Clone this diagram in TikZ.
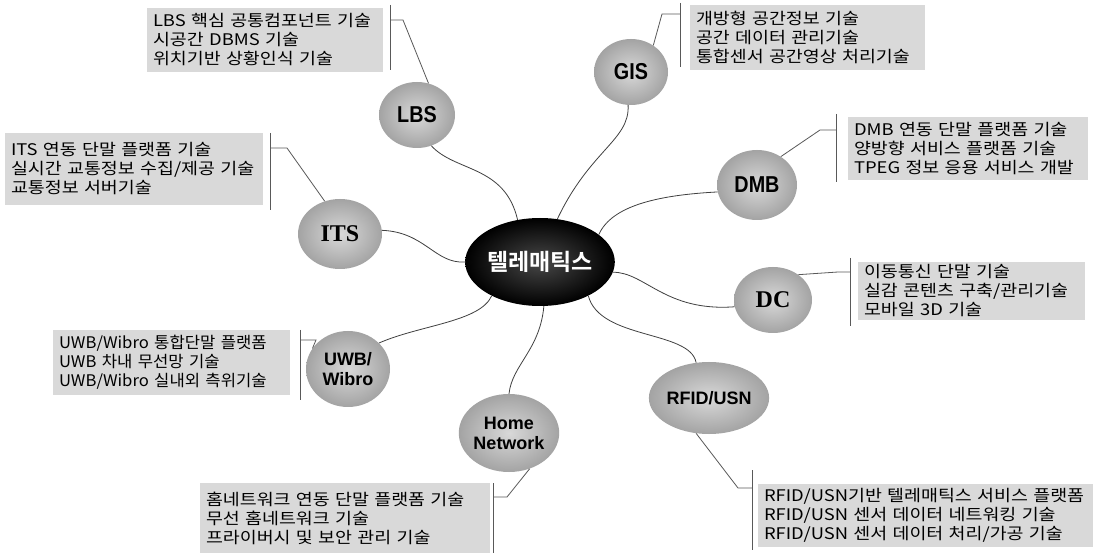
\documentclass[tikz,border=0pt]{standalone}
\usepackage{fontspec}
\setmainfont{Noto Sans CJK KR}
\newfontfamily\boxfont{Noto Sans CJK KR}[FakeStretch=1.15]
\newfontfamily\boxfontn{Noto Sans CJK KR}[FakeStretch=1.04]
\newfontfamily\krbold{Noto Sans CJK KR Bold}
\newfontfamily\lblsans{Liberation Sans}
\newfontfamily\lblcond{Liberation Sans}[FakeStretch=0.86]
\newfontfamily\lblserif{Liberation Serif}
\usetikzlibrary{shapes.geometric}
\begin{document}
\begin{tikzpicture}[x=1pt,y=-1pt,
  sat/.style={ellipse, inner sep=0pt, inner color=gray!30, outer color=gray!72, align=center},
  hub/.style={ellipse, inner sep=0pt, inner color=black!72, outer color=black, text=white},
  infobox/.style={rectangle, fill=gray!30, align=left, inner xsep=6pt, inner ysep=0pt,
    font=\boxfont\fontsize{16}{19}\selectfont},
  brk/.style={draw=black!65, line width=0.8pt},
  link/.style={draw=black!75, line width=0.8pt},
  condlbl/.style={font=\lblcond\bfseries\fontsize{23}{23}\selectfont},
  seriflbl/.style={font=\lblserif\bfseries\fontsize{24}{24}\selectfont},
  sanslbl/.style={font=\lblsans\bfseries\fontsize{18}{20}\selectfont}
]
\useasboundingbox (0,0) rectangle (1101,553);
\fill[white] (0,0) rectangle (1101,553);

% info boxes
\node[infobox, minimum width=236pt, minimum height=64pt, text width=224pt] (lbsT) at (265,40)
  {LBS 핵심 공통컴포넌트 기술\\시공간 DBMS 기술\\위치기반 상황인식 기술};
\node[infobox, minimum width=235pt, minimum height=65pt, text width=223pt] (gisT) at (807.5,37.5)
  {개방형 공간정보 기술\\공간 데이터 관리기술\\통합센서 공간영상 처리기술};
\node[infobox, minimum width=240pt, minimum height=63pt, text width=228pt] (dmbT) at (968,148.5)
  {DMB 연동 단말 플랫폼 기술\\양방향 서비스 플랫폼 기술\\TPEG 정보 응용 서비스 개발};
\node[infobox, minimum width=258pt, minimum height=72pt, text width=246pt] (itsT) at (134,169)
  {ITS 연동 단말 플랫폼 기술\\실시간 교통정보 수집/제공 기술\\교통정보 서버기술};
\node[infobox, minimum width=227pt, minimum height=58pt, text width=215pt] (dcT) at (971.5,291)
  {이동통신 단말 기술\\실감 콘텐츠 구축/관리기술\\모바일 3D 기술};
\node[infobox, font=\boxfontn\fontsize{16}{19}\selectfont, minimum width=237pt, minimum height=65pt, text width=225pt] (uwbT) at (171.5,362.5)
  {UWB/Wibro 통합단말 플랫폼\\UWB 차내 무선망 기술\\UWB/Wibro 실내외 측위기술};
\node[infobox, minimum width=290pt, minimum height=70pt, text width=278pt] (hnT) at (345,518)
  {홈네트워크 연동 단말 플랫폼 기술\\무선 홈네트워크 기술\\프라이버시 및 보안 관리 기술};
\node[infobox, minimum width=335pt, minimum height=63pt, text width=323pt] (rfT) at (925.5,515.5)
  {RFID/USN기반 텔레매틱스 서비스 플랫폼\\RFID/USN 센서 데이터 네트워킹 기술\\RFID/USN 센서 데이터 처리/가공 기술};

% hub and satellites
\node[hub, minimum width=130pt, minimum height=88pt, font=\krbold\fontsize{23}{23}\selectfont] (c) at (540,262) {텔레매틱스};
\node[sat, condlbl, minimum width=76pt, minimum height=66pt] (lbs) at (417,115) {LBS};
\node[sat, condlbl, minimum width=74pt, minimum height=66pt] (gis) at (631,72) {GIS};
\node[sat, condlbl, minimum width=80pt, minimum height=70pt] (dmb) at (757,185) {DMB};
\node[sat, seriflbl, minimum width=84pt, minimum height=70pt] (its) at (340,234) {ITS};
\node[sat, seriflbl, minimum width=78pt, minimum height=66pt] (dc) at (773,300) {DC};
\node[sat, sanslbl, minimum width=84pt, minimum height=76pt] (uwb) at (348,369) {UWB/\\Wibro};
\node[sat, sanslbl, minimum width=92pt, minimum height=78pt] (hn) at (509,433) {Home\\Network};
\node[sat, sanslbl, minimum width=94pt, minimum height=72pt] (rf) at (709,398) {RFID/USN};

% bracket coordinates
\coordinate (lbsA) at (390,5);   \coordinate (lbsB) at (390,70);
\coordinate (lbsJ) at (390,20);  \coordinate (lbsK) at (403,20);
\coordinate (gisA) at (680,3);   \coordinate (gisB) at (680,67);
\coordinate (gisJ) at (680,14);  \coordinate (gisK) at (662,14);
\coordinate (dmbA) at (836,114); \coordinate (dmbB) at (836,182);
\coordinate (dmbJ) at (836,130); \coordinate (dmbK) at (820,130);
\coordinate (itsA) at (270,133); \coordinate (itsB) at (270,210);
\coordinate (itsJ) at (270,148); \coordinate (itsK) at (287,148);
\coordinate (dcA) at (850,258);  \coordinate (dcB) at (850,326);
\coordinate (dcJ) at (850,272);  \coordinate (dcK) at (838,272);
\coordinate (uwbA) at (300,330); \coordinate (uwbB) at (300,400);
\coordinate (uwbJ) at (300,340); \coordinate (uwbK) at (316,340);
\coordinate (hnA) at (493,483);  \coordinate (hnB) at (493,553);
\coordinate (hnJ) at (493,497);  \coordinate (hnK) at (507,497);
\coordinate (rfA) at (752,470);  \coordinate (rfB) at (752,550);
\coordinate (rfJ) at (752,488);  \coordinate (rfK) at (738,488);

% brackets
\foreach \n in {lbs,gis,dmb,its,dc,uwb,hn,rf} {\draw[brk] (\n A) -- (\n B);}
\draw[brk] (lbs.70) -- (lbsK) -- (lbsJ);
\draw[brk] (gis.50) -- (gisK) -- (gisJ);
\draw[brk] (dmb.50) -- (dmbK) -- (dmbJ);
\draw[brk] (its.115) -- (itsK) -- (itsJ);
\draw[brk] (dc.45) -- (dcK) -- (dcJ);
\draw[brk] (uwb.150) -- (uwbK) -- (uwbJ);
\draw[brk] (hn.-60) -- (hnK) -- (hnJ);
\draw[brk] (rf.-110) -- (rfK) -- (rfJ);

% hub links
\draw[link] (lbs.-65) .. controls (455,172) and (505,165) .. (c.118);
\draw[link] (gis.-95) .. controls (630,140) and (590,150) .. (c.68);
\draw[link] (dmb.190) .. controls (660,195) and (612,205) .. (c.25);
\draw[link] (its.5) .. controls (425,232) and (435,264) .. (c.180);
\draw[link] (c.-8) .. controls (645,272) and (665,312) .. (dc.190);
\draw[link] (uwb.40) .. controls (420,325) and (480,322) .. (c.-145);
\draw[link] (hn.90) .. controls (512,365) and (540,350) .. (c.-85);
\draw[link] (c.-35) .. controls (600,340) and (690,330) .. (rf.110);
\end{tikzpicture}
\end{document}
